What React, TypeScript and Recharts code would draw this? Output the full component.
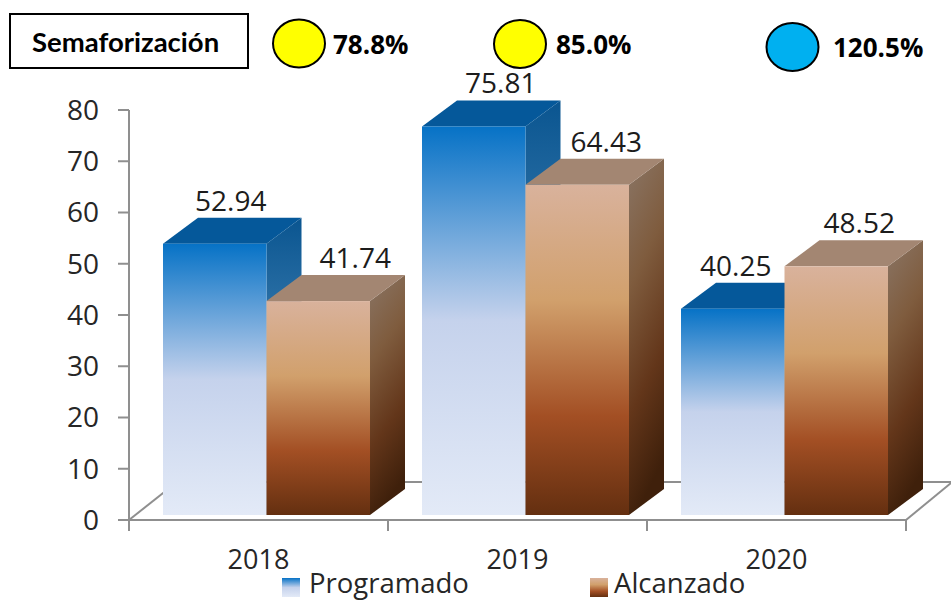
import React from 'react';
import { BarChart, Bar, XAxis, YAxis, Legend, usePlotArea } from 'recharts';

const categories = ['2018', '2019', '2020'];
const programado = [52.94, 75.81, 40.25];
const alcanzado = [41.74, 64.43, 48.52];
const yTicks = [0, 10, 20, 30, 40, 50, 60, 70, 80];
const semaforo = ['78.8%', '85.0%', '120.5%'];
const seriesNames = ['Programado', 'Alcanzado'];

const programadoLabelNudge = [16, 27, 3];
const alcanzadoLabelNudge = [37, 29, 23];

const data = categories.map((c, i) => ({ year: c, programado: programado[i], alcanzado: alcanzado[i] }));

const FONT = '"Open Sans", sans-serif';
const BOLD_FONT = 'Lato, sans-serif';
const AXIS = '#8f8f8f';
const DEPTH_X = 35;
const DEPTH_Y = 26;
const SHIFT_X = 8;
const SHIFT_Y = -5;

function box3d(prefix: string, topFill: string) {
  return (props: any) => {
    const { x, y, width, height } = props;
    const X = x + SHIFT_X;
    const Y = y + SHIFT_Y;
    const side = `${X + width},${Y} ${X + width + DEPTH_X},${Y - DEPTH_Y} ${X + width + DEPTH_X},${Y + height - DEPTH_Y} ${X + width},${Y + height}`;
    const top = `${X},${Y} ${X + DEPTH_X},${Y - DEPTH_Y} ${X + width + DEPTH_X},${Y - DEPTH_Y} ${X + width},${Y}`;
    return (
      <g>
        <polygon points={side} fill={`url(#${prefix}Side)`} />
        <polygon points={top} fill={topFill} />
        <rect x={X} y={Y} width={width} height={height} fill={`url(#${prefix}Front)`} />
      </g>
    );
  };
}

function valueLabel(nudges: number[]) {
  return (props: any) => {
    const { x, y, width, value, index } = props;
    return (
      <text x={x + width / 2 + SHIFT_X + nudges[index]} y={y + SHIFT_Y - 33} textAnchor="middle" fontFamily={FONT} fontSize={28} fill="#1c1c1c">
        {value}
      </text>
    );
  };
}

function Floor() {
  const plot = usePlotArea();
  if (!plot) return null;
  const { x, y, width } = plot;
  const bottom = y + plot.height;
  const step = width / categories.length;
  const ticks = [0, 1, 2, 3].map((i) => x + i * step);
  return (
    <g stroke={AXIS} strokeWidth={2} fill="none">
      <line x1={x} y1={bottom} x2={x + 48} y2={bottom - 38} />
      <line x1={x + 48} y1={bottom - 38} x2={951} y2={bottom - 38} />
      <line x1={x + width} y1={bottom} x2={951} y2={bottom - 37} />
      {ticks.map((t) => (
        <line key={t} x1={t} y1={bottom} x2={t} y2={bottom + 11} />
      ))}
    </g>
  );
}

function LegendContent() {
  const pos = [
    { swatch: 282, text: 309, id: 'blueFront' },
    { swatch: 590, text: 614, id: 'orangeFront' },
  ];
  return (
    <svg width={951} height={40} style={{ display: 'block', overflow: 'visible' }}>
      {seriesNames.map((n, i) => (
        <g key={n}>
          <rect x={pos[i].swatch} y={18} width={18} height={19} fill={`url(#${pos[i].id})`} />
          <text x={pos[i].text} y={33} fontFamily={FONT} fontSize={27.5} fill="#262626">{n}</text>
        </g>
      ))}
    </svg>
  );
}

function Header() {
  const cs = [
    { cx: 299, cy: 43.5, fill: '#ffff00', tx: 333, ty: 54 },
    { cx: 520, cy: 44, fill: '#ffff00', tx: 556, ty: 54 },
    { cx: 792.5, cy: 47, fill: '#00b0f0', tx: 833, ty: 57 },
  ];
  return (
    <svg width={951} height={80} style={{ position: 'absolute', left: 0, top: 0 }}>
      <rect x={10} y={14} width={238} height={54} fill="#fff" stroke="#000" strokeWidth={2} />
      <text x={32} y={52} fontFamily={BOLD_FONT} fontWeight={700} fontSize={27.5} fill="#000">Semaforización</text>
      {cs.map((c, i) => (
        <g key={i}>
          <ellipse cx={c.cx} cy={c.cy} rx={26} ry={24} fill={c.fill} stroke="#000" strokeWidth={2} />
          <text x={c.tx} y={c.ty} fontFamily={FONT} fontWeight={700} fontSize={26} fill="#000">{semaforo[i]}</text>
        </g>
      ))}
    </svg>
  );
}

export default function App() {
  return (
    <div style={{ position: 'absolute', left: 0, top: 0, width: 951, height: 601, overflow: 'hidden', background: '#fff' }}>
      <BarChart
        width={951}
        height={601}
        data={data}
        margin={{ top: 110, right: 45, bottom: 0, left: 69 }}
        barSize={103.5}
        barGap={0}
      >
        <defs>
          <linearGradient id="blueFront" x1="0" y1="0" x2="0" y2="1">
            <stop offset="0" stopColor="#0672c6" />
            <stop offset="0.5" stopColor="#c5d2ec" />
            <stop offset="1" stopColor="#e3eaf7" />
          </linearGradient>
          <linearGradient id="blueSide" x1="0" y1="0" x2="0" y2="1">
            <stop offset="0" stopColor="#0a5590" />
            <stop offset="0.3" stopColor="#2a6fa5" />
            <stop offset="1" stopColor="#8fa5c0" />
          </linearGradient>
          <linearGradient id="orangeFront" x1="0" y1="0" x2="0" y2="1">
            <stop offset="0" stopColor="#d9b29c" />
            <stop offset="0.35" stopColor="#d1a06c" />
            <stop offset="0.7" stopColor="#a34f24" />
            <stop offset="1" stopColor="#642f10" />
          </linearGradient>
          <linearGradient id="orangeSide" x1="0" y1="0" x2="0.2" y2="1">
            <stop offset="0" stopColor="#8a7565" />
            <stop offset="0.35" stopColor="#7f5c3e" />
            <stop offset="0.7" stopColor="#63361a" />
            <stop offset="1" stopColor="#3f200b" />
          </linearGradient>
        </defs>
        <Floor />
        <XAxis
          dataKey="year"
          height={81}
          axisLine={{ stroke: AXIS, strokeWidth: 2 }}
          tickLine={false}
          tickMargin={24}
          tick={{ fontFamily: FONT, fontSize: 27, fill: '#262626' }}
        />
        <YAxis
          width={60}
          domain={[0, 80]}
          ticks={yTicks}
          tickSize={11}
          tickMargin={19}
          interval={0}
          axisLine={{ stroke: AXIS, strokeWidth: 2 }}
          tickLine={{ stroke: AXIS, strokeWidth: 2 }}
          tick={{ fontFamily: FONT, fontSize: 28, fill: '#262626' }}
        />
        <Bar dataKey="programado" name={seriesNames[0]} isAnimationActive={false} shape={box3d('blue', '#05589a')} label={valueLabel(programadoLabelNudge)} />
        <Bar dataKey="alcanzado" name={seriesNames[1]} isAnimationActive={false} shape={box3d('orange', '#a38672')} label={valueLabel(alcanzadoLabelNudge)} />
        <Legend verticalAlign="middle" layout="horizontal" content={<LegendContent />} wrapperStyle={{ position: 'absolute', left: 0, top: 560, width: 951, height: 40 }} />
      </BarChart>
      <Header />
    </div>
  );
}
